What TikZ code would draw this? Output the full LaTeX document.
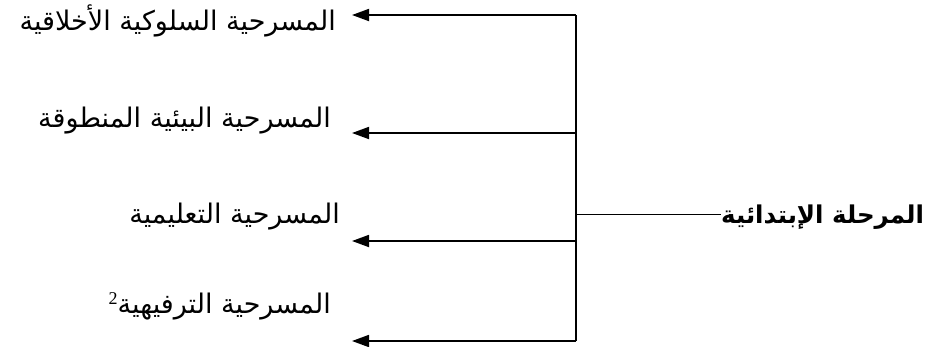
\documentclass[tikz,border=0pt]{standalone}
\usepackage{fontspec}
\usetikzlibrary{arrows.meta}
\TeXXeTstate=1
\newfontfamily\arabicfont[Script=Arabic]{DejaVu Sans}
\newfontfamily\supfont{Liberation Serif}
\begin{document}
\begin{tikzpicture}[x=1pt,y=-1pt,
  lbl/.style={inner sep=0pt,font=\arabicfont\fontsize{27}{30}\selectfont},
  rootlbl/.style={inner sep=0pt,font=\arabicfont\bfseries\fontsize{24.5}{28}\selectfont},
  trunk/.style={line width=1.8pt},
  branch/.style={line width=1.8pt,-{Triangle[length=17pt,width=12pt]}},
  thin/.style={line width=1pt}]
\useasboundingbox (0,0) rectangle (934,346);
% labels
\node[lbl,anchor=east] (l1) at (336,21) {\beginR المسرحية السلوكية الأخلاقية\endR};
\node[lbl,anchor=east] (l2) at (331,121) {\beginR المسرحية البيئية المنطوقة\endR};
\node[lbl,anchor=east] (l3) at (340,217) {\beginR المسرحية التعليمية\endR};
\node[lbl,anchor=east] (l4) at (331,306) {\beginR المسرحية الترفيهية\raisebox{9pt}{\supfont\fontsize{18}{20}\selectfont 2}\endR};
\node[rootlbl,anchor=west] (root) at (721,217) {\beginR المرحلة الإبتدائية\endR};
% trunk
\coordinate (t1) at (576,15);
\coordinate (t2) at (576,133);
\coordinate (t3) at (576,241);
\coordinate (t4) at (576,341);
\coordinate (tm) at (576,214);
\coordinate (a1) at (352,15);
\coordinate (a2) at (352,133);
\coordinate (a3) at (352,241);
\coordinate (a4) at (352,341);
\draw[trunk] (t1) -- (t4);
\draw[thin] (tm) -- (root.west |- tm);
\draw[branch] (t1) -- (a1);
\draw[branch] (t2) -- (a2);
\draw[branch] (t3) -- (a3);
\draw[branch] (t4) -- (a4);
\end{tikzpicture}
\end{document}
